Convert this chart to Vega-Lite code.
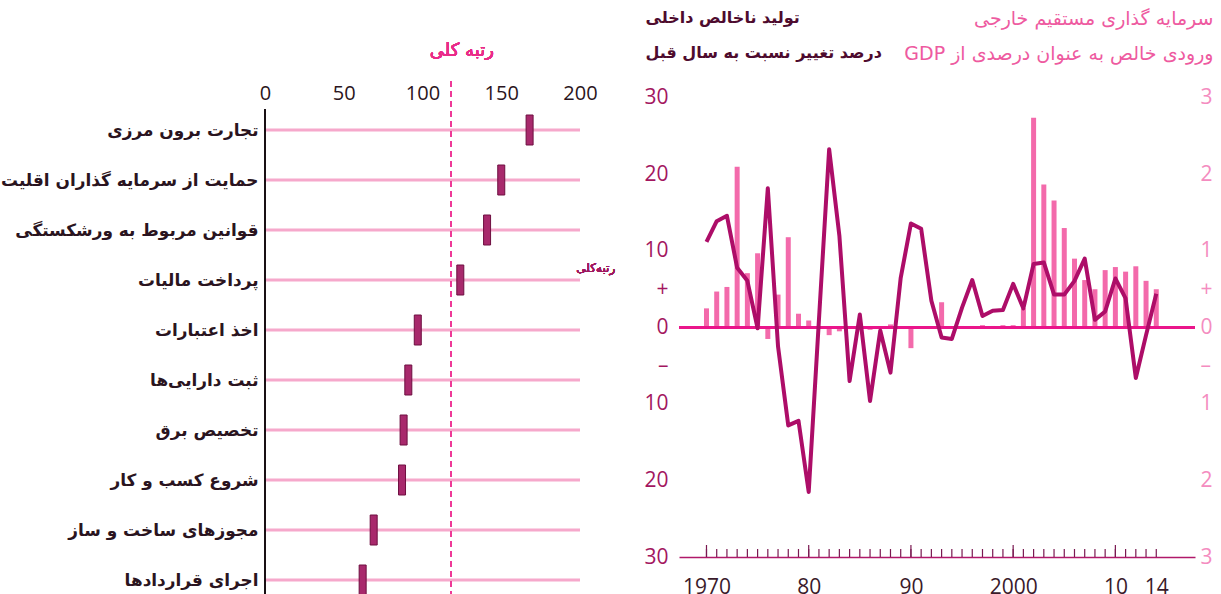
{
  "$schema": "https://vega.github.io/schema/vega-lite/v6.json",
  "autosize": {"type": "pad"},
  "padding": {"left": 0, "top": 9, "right": 0, "bottom": 0},
  "background": "white",
  "spacing": 99,
  "bounds": "flush",
  "config": {"view": {"stroke": null}},
  "datasets": {
    "ranks": [
      {"ind": "تجارت برون مرزی", "rank": 168},
      {"ind": "حمایت از سرمایه گذاران اقلیت", "rank": 150},
      {"ind": "قوانین مربوط به ورشکستگی", "rank": 141},
      {"ind": "پرداخت مالیات", "rank": 124},
      {"ind": "اخذ اعتبارات", "rank": 97},
      {"ind": "ثبت دارایی‌ها", "rank": 91},
      {"ind": "تخصیص برق", "rank": 88},
      {"ind": "شروع کسب و کار", "rank": 87},
      {"ind": "مجوزهای ساخت و ساز", "rank": 69},
      {"ind": "اجرای قراردادها", "rank": 62}
    ],
    "econ": [
      {"year": 1970, "gdp": 11.2, "fdi": 0.25},
      {"year": 1971, "gdp": 13.9, "fdi": 0.47},
      {"year": 1972, "gdp": 14.6, "fdi": 0.53},
      {"year": 1973, "gdp": 7.8, "fdi": 2.1},
      {"year": 1974, "gdp": 6.1, "fdi": 0.71},
      {"year": 1975, "gdp": -0.1, "fdi": 0.97},
      {"year": 1976, "gdp": 18.2, "fdi": -0.15},
      {"year": 1977, "gdp": -2.5, "fdi": 0.43},
      {"year": 1978, "gdp": -12.8, "fdi": 1.18},
      {"year": 1979, "gdp": -12.2, "fdi": 0.18},
      {"year": 1980, "gdp": -21.5, "fdi": 0.09},
      {"year": 1981, "gdp": 1.0, "fdi": 0.02},
      {"year": 1982, "gdp": 23.3, "fdi": -0.1},
      {"year": 1983, "gdp": 12.0, "fdi": -0.05},
      {"year": 1984, "gdp": -7.0, "fdi": -0.02},
      {"year": 1985, "gdp": 1.7, "fdi": 0.01},
      {"year": 1986, "gdp": -9.6, "fdi": -0.03},
      {"year": 1987, "gdp": -0.4, "fdi": 0.01},
      {"year": 1988, "gdp": -5.9, "fdi": 0.04},
      {"year": 1989, "gdp": 6.5, "fdi": -0.01},
      {"year": 1990, "gdp": 13.6, "fdi": -0.27},
      {"year": 1991, "gdp": 12.9, "fdi": 0.0},
      {"year": 1992, "gdp": 3.5, "fdi": 0.0},
      {"year": 1993, "gdp": -1.3, "fdi": 0.33},
      {"year": 1994, "gdp": -1.5, "fdi": 0.01},
      {"year": 1995, "gdp": 2.6, "fdi": 0.02},
      {"year": 1996, "gdp": 6.2, "fdi": 0.02},
      {"year": 1997, "gdp": 1.5, "fdi": 0.03},
      {"year": 1998, "gdp": 2.2, "fdi": 0.02},
      {"year": 1999, "gdp": 2.3, "fdi": 0.03},
      {"year": 2000, "gdp": 5.7, "fdi": 0.03},
      {"year": 2001, "gdp": 2.5, "fdi": 0.25},
      {"year": 2002, "gdp": 8.3, "fdi": 2.74},
      {"year": 2003, "gdp": 8.5, "fdi": 1.87},
      {"year": 2004, "gdp": 4.3, "fdi": 1.66},
      {"year": 2005, "gdp": 4.3, "fdi": 1.3},
      {"year": 2006, "gdp": 6.1, "fdi": 0.9},
      {"year": 2007, "gdp": 9.0, "fdi": 0.62},
      {"year": 2008, "gdp": 1.0, "fdi": 0.5},
      {"year": 2009, "gdp": 2.1, "fdi": 0.75},
      {"year": 2010, "gdp": 6.4, "fdi": 0.79},
      {"year": 2011, "gdp": 3.8, "fdi": 0.73},
      {"year": 2012, "gdp": -6.6, "fdi": 0.8},
      {"year": 2013, "gdp": -1.0, "fdi": 0.61},
      {"year": 2014, "gdp": 4.4, "fdi": 0.5}
    ]
  },
  "hconcat": [
    {
      "width": 315,
      "height": 548,
      "data": {"name": "ranks"},
      "layer": [
        {
          "mark": {"type": "rule", "color": "#f6a8cb", "strokeWidth": 3},
          "encoding": {
            "y": {
              "field": "ind", "type": "nominal", "sort": null,
              "scale": {"type": "point", "padding": 0.98},
              "axis": {
                "title": null, "domain": false, "ticks": false, "grid": false,
                "labelFont": "DejaVu Sans", "labelFontSize": 16.9, "labelFontWeight": "bold",
                "labelColor": "#2a1420", "labelPadding": 7, "labelLimit": 0
              }
            },
            "x": {
              "datum": 0, "type": "quantitative",
              "scale": {"domain": [0, 200], "nice": false},
              "axis": {
                "orient": "top", "values": [0, 50, 100, 150, 200], "title": null,
                "domain": false, "ticks": false, "grid": false,
                "labelFont": "Open Sans", "labelFontSize": 20, "labelColor": "#2a1420",
                "offset": -22, "labelPadding": 0, "labelFlush": false
              }
            },
            "x2": {"datum": 200}
          }
        },
        {
          "mark": {"type": "rule", "color": "#ee3a98", "strokeDash": [6, 4], "strokeWidth": 1.5},
          "encoding": {"x": {"datum": 118, "type": "quantitative"}}
        },
        {
          "mark": {"type": "rule", "color": "#1a1014", "strokeWidth": 1.5, "yOffset": -21, "y2Offset": 60},
          "encoding": {
            "x": {"datum": 0, "type": "quantitative"},
            "y": {"datum": "تجارت برون مرزی", "type": "nominal"},
            "y2": {"datum": "اجرای قراردادها"}
          }
        },
        {
          "mark": {"type": "tick", "orient": "vertical", "thickness": 7, "size": 30, "color": "#a8296c", "stroke": "#6e0f40", "strokeWidth": 1, "opacity": 1},
          "encoding": {
            "x": {"field": "rank", "type": "quantitative"},
            "y": {"field": "ind", "type": "nominal", "sort": null}
          }
        },
        {
          "mark": {"type": "text", "text": "رتبه کلی", "font": "DejaVu Sans", "fontSize": 18, "color": "#ea2b8a", "dx": 11, "dy": -79},
          "encoding": {
            "x": {"datum": 118, "type": "quantitative"},
            "y": {"datum": "تجارت برون مرزی", "type": "nominal"}
          }
        },
        {
          "mark": {"type": "text", "text": "رتبه‌کلی", "font": "DejaVu Sans", "fontSize": 12, "color": "#a0195f", "dy": -12, "clip": false},
          "encoding": {
            "x": {"datum": 210, "type": "quantitative"},
            "y": {"datum": "پرداخت مالیات", "type": "nominal"}
          }
        }
      ]
    },
    {
      "width": 516,
      "height": 476,
      "data": {"name": "econ"},
      "layer": [
        {
          "mark": {"type": "bar", "width": 5, "color": "#f36aab"},
          "encoding": {
            "x": {
              "field": "year", "type": "quantitative",
              "scale": {"domain": [1967.8, 2017.3], "nice": false, "zero": false},
              "axis": {
                "orient": "bottom", "title": null, "grid": false, "ticks": false,
                "values": [1970, 1980, 1990, 2000, 2010, 2014],
                "labelExpr": "datum.value == 1970 ? '1970' : datum.value == 1980 ? '80' : datum.value == 1990 ? '90' : datum.value == 2000 ? '2000' : datum.value == 2010 ? '10' : '14'",
                "domainColor": "#b0186a", "domainWidth": 1.5,
                "labelFont": "Open Sans", "labelFontSize": 21, "labelColor": "#3a1a2a",
                "labelPadding": 19, "labelFlush": false, "labelOverlap": false
              }
            },
            "y": {
              "field": "fdi", "type": "quantitative",
              "scale": {"domain": [-3, 3.222], "nice": false, "zero": false},
              "axis": {
                "orient": "right", "values": [3, 2, 1, 0.5, 0, -0.5, -1, -2, -3],
                "labelExpr": "datum.value == 0.5 ? '+' : datum.value == -0.5 ? '–' : '' + abs(datum.value)",
                "domain": false, "ticks": false, "grid": false,
                "labelFont": "Open Sans", "labelFontSize": 21, "labelColor": "#f48cc0", "labelPadding": 5,
                "title": ["سرمایه گذاری مستقیم خارجی", "‫ورودی خالص به عنوان درصدی از GDP‬"],
                "titleAngle": 0, "titleAlign": "right", "titleBaseline": "top",
                "titleX": 18, "titleY": -72, "titleFont": "DejaVu Sans", "titleFontSize": 19,
                "titleFontWeight": "normal", "titleColor": "#ee5aa0", "titleLineHeight": 35
              }
            }
          }
        },
        {
          "layer": [
            {
              "mark": {"type": "rule", "color": "#ea168b", "strokeWidth": 2.5},
              "encoding": {
                "y": {
                  "datum": 0, "type": "quantitative",
                  "scale": {"domain": [-30, 32.22], "nice": false, "zero": false},
                  "axis": {
                    "orient": "left", "values": [30, 20, 10, 5, 0, -5, -10, -20, -30],
                    "labelExpr": "datum.value == 5 ? '+' : datum.value == -5 ? '–' : '' + abs(datum.value)",
                    "domain": false, "ticks": false, "grid": false,
                    "labelFont": "Open Sans", "labelFontSize": 21, "labelColor": "#a3165f", "labelPadding": 11,
                    "title": ["تولید ناخالص داخلی", "درصد تغییر نسبت به سال قبل"],
                    "titleAngle": 0, "titleAlign": "left", "titleBaseline": "top",
                    "titleX": -34, "titleY": -72, "titleFont": "DejaVu Sans", "titleFontSize": 16,
                    "titleFontWeight": "bold", "titleColor": "#4e0b2e", "titleLineHeight": 35
                  }
                }
              }
            },
            {
              "mark": {"type": "tick", "orient": "vertical", "size": 8, "thickness": 1.2, "yOffset": -4, "color": "#7a1850", "opacity": 1},
              "encoding": {
                "x": {"field": "year", "type": "quantitative"},
                "y": {"datum": -30, "type": "quantitative"}
              }
            },
            {
              "transform": [{"filter": "datum.year % 10 == 0"}],
              "mark": {"type": "tick", "orient": "vertical", "size": 12, "thickness": 1.2, "yOffset": -6, "color": "#7a1850", "opacity": 1},
              "encoding": {
                "x": {"field": "year", "type": "quantitative"},
                "y": {"datum": -30, "type": "quantitative"}
              }
            },
            {
              "mark": {"type": "line", "color": "#ad0d68", "strokeWidth": 4, "strokeJoin": "round"},
              "encoding": {
                "x": {"field": "year", "type": "quantitative"},
                "y": {"field": "gdp", "type": "quantitative"}
              }
            }
          ]
        }
      ],
      "resolve": {"scale": {"y": "independent"}}
    }
  ]
}
